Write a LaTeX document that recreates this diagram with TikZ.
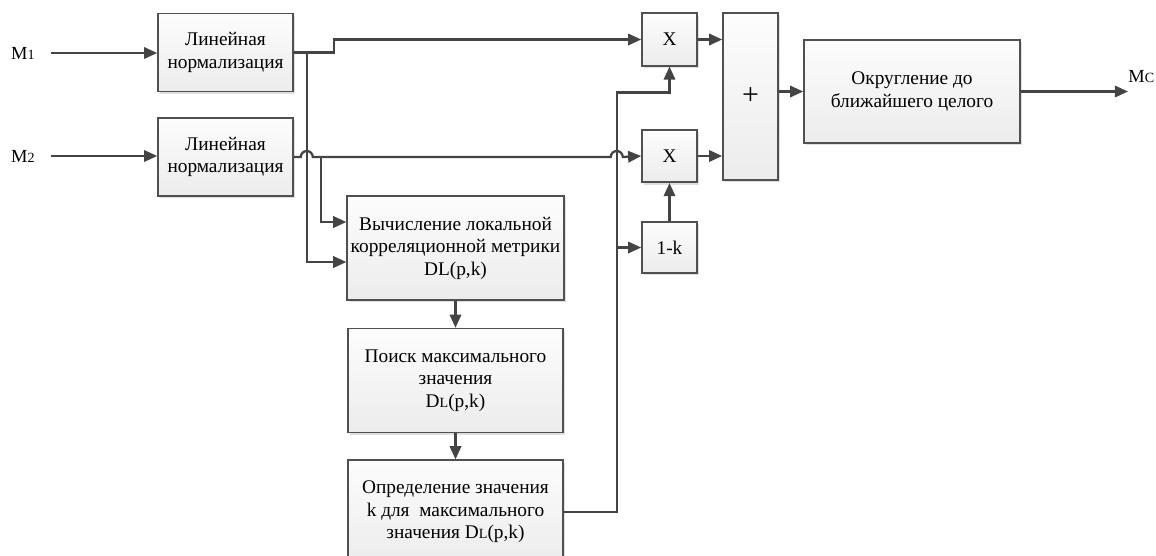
\documentclass[tikz,border=0pt]{standalone}
\usepackage{fontspec}
\setmainfont{Liberation Serif}
\usepackage{tikz}
\usepackage{xcolor}
\usetikzlibrary{arrows.meta, positioning, calc, shadows}
\definecolor{wire}{RGB}{68,68,68}
\definecolor{frame}{RGB}{80,80,80}
\newcommand{\sml}[1]{{\fontsize{8}{9}\selectfont #1}}

\begin{document}
\begin{tikzpicture}[
  x=0.02cm, y=-0.02cm,
  block/.style={draw=frame, line width=0.9pt, top color=gray!2, bottom color=gray!15, drop shadow={shadow xshift=1.4pt, shadow yshift=-1.4pt, opacity=0.25}, align=center, inner sep=2pt, font=\fontsize{11}{12.8}\selectfont},
  wide/.style={block, minimum width=4.3cm, minimum height=2.08cm},
  small/.style={block, minimum width=1.1cm, minimum height=#1},
  small/.default=1.05cm,
  arr/.style={-{Triangle[length=7.5pt, width=6.5pt]}, line width=1.3pt, color=wire},
  sig/.style={font=\fontsize{10.5}{12}\selectfont, inner sep=0pt}
]
\path[use as bounding box, clip] (0,0) rectangle (1156,555);

\node[block, minimum width=2.7cm, minimum height=1.56cm] (norm1) at (225.5,52.5) {Линейная\\нормализация};
\node[block, minimum width=2.7cm, minimum height=1.56cm] (norm2) at (225.5,157) {Линейная\\нормализация};
\node[wide] (metric) at (455.5,248) {Вычисление локальной\\корреляционной метрики\\DL(p,k)};
\node[wide, below=0.54cm of metric] (search) {Поиск максимального\\значения\\D\sml{L}(p,k)};
\node[wide, below=0.52cm of search] (determine) {Определение значения\\k для\ \ максимального\\значения D\sml{L}(p,k)};
\node[small] (mul1) at (669.5,39.5) {X};
\node[small] (mul2) at (669.5,156) {X};
\node[small=1.02cm] (onek) at (669.5,247.5) {1-k};
\node[small=3.34cm] (sum) at (750.5,96.5) {\fontsize{17}{17}\selectfont +};
\node[block, minimum width=4.32cm, minimum height=2.06cm] (round) at (912,91.5) {Округление до\\ближайшего целого};

\node[sig, anchor=east] (m1) at (35,53) {M\sml{1}};
\node[sig, anchor=east] (m2) at (35,156) {M\sml{2}};
\node[sig, anchor=west] (mc) at (1128,77) {M\sml{C}};

\draw[arr, shorten <=0.32cm] (m1.east) -- (m1.east -| norm1.west);
\draw[arr, shorten <=0.32cm] (m2.east) -- (m2.east -| norm2.west);

\draw[arr] (norm1.east) -- ++(40,0) |- (mul1.west);
\coordinate (tapA) at ($(norm1.east)+(13,0)$);
\coordinate (tapB) at ($(norm2.east)+(27,0)$);
\draw[arr] (tapA) |- ($(metric.west)+(0,14)$);
\draw[arr] (tapB) |- ($(metric.west)+(0,-26)$);

\draw[arr] (metric) -- (search);
\draw[arr] (search) -- (determine);

\draw[arr] (determine.east) -- ++(53,0) coordinate (bus) |- ($(mul1.south)+(0,26)$) -- (mul1.south);
\draw[arr] (bus |- onek.west) -- (onek.west);
\draw[arr] (onek) -- (mul2);

\draw[arr] (norm2.east) -- ($(tapA |- norm2.east)+(-6,0)$) arc[start angle=180, end angle=0, radius=0.12cm]
  -- ($(bus |- norm2.east)+(-6,0)$) arc[start angle=180, end angle=0, radius=0.12cm] -- (mul2.west);

\draw[arr] (mul1.east) -- (mul1.east -| sum.west);
\draw[arr] (mul2.east) -- (mul2.east -| sum.west);
\draw[arr] (round.west -| sum.east) -- (round.west);
\draw[arr] (round.east) -- (round.east -| mc.west);
\end{tikzpicture}
\end{document}
